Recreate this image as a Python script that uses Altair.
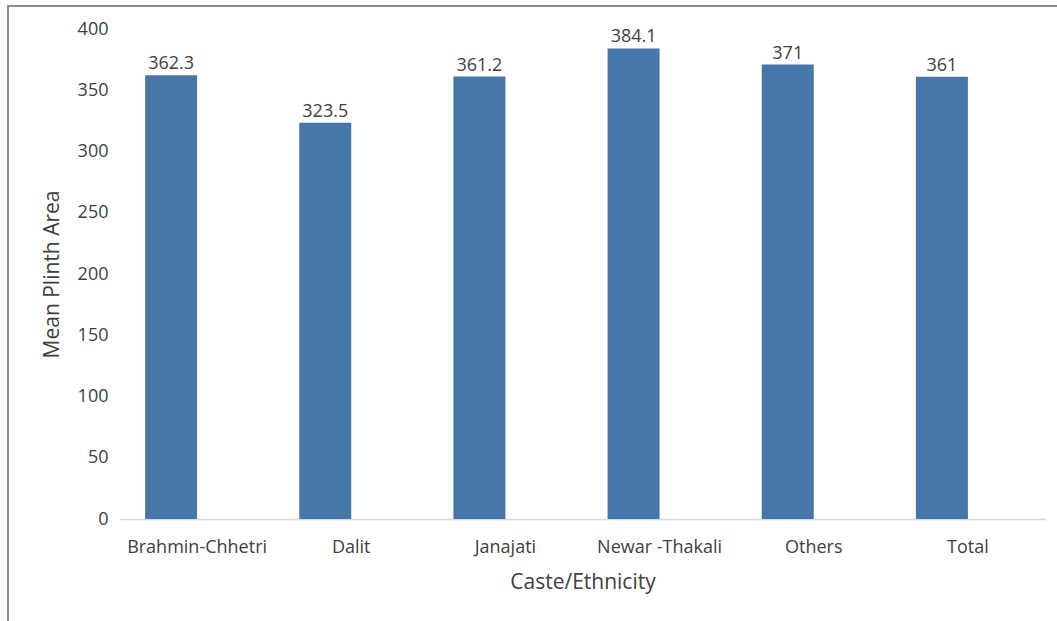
import altair as alt
import pandas as pd

# Mean plinth area by caste/ethnicity
categories = ["Brahmin-Chhetri", "Dalit", "Janajati", "Newar -Thakali", "Others", "Total"]
mean_area = [362.3, 323.5, 361.2, 384.1, 371, 361]
value_labels = ["362.3", "323.5", "361.2", "384.1", "371", "361"]

df = pd.DataFrame({"group": categories, "area": mean_area, "label": value_labels})

FONT = "Open Sans"
TEXT = "#404040"
BAR = "#4677a8"

x_enc = alt.X(
    "group:N",
    sort=categories,
    title="Caste/Ethnicity",
    scale=alt.Scale(paddingInner=0, paddingOuter=0),
    axis=alt.Axis(
        labelAngle=0,
        labelFont=FONT,
        labelFontSize=18,
        labelColor=TEXT,
        labelPadding=19,
        ticks=False,
        domainColor="#d9d9d9",
        domainWidth=1.5,
        titleFont=FONT,
        titleFontSize=21,
        titleFontWeight="normal",
        titleColor=TEXT,
        titlePadding=15,
    ),
)
y_enc = alt.Y(
    "area:Q",
    title="Mean Plinth Area",
    scale=alt.Scale(domain=[0, 400]),
    axis=alt.Axis(
        values=[0, 50, 100, 150, 200, 250, 300, 350, 400],
        labelFont=FONT,
        labelFontSize=18,
        labelColor=TEXT,
        labelPadding=12,
        ticks=False,
        domain=False,
        grid=False,
        titleFont=FONT,
        titleFontSize=21,
        titleFontWeight="normal",
        titleColor=TEXT,
        titlePadding=15,
    ),
)

bars = alt.Chart(df).mark_bar(width=52, xOffset=-26, color=BAR).encode(x=x_enc, y=y_enc)

labels = alt.Chart(df).mark_text(
    xOffset=-26, dy=-2, baseline="bottom", font=FONT, fontSize=18, color=TEXT
).encode(x=alt.X("group:N", sort=categories), y="area:Q", text="label:N")

frame = alt.Chart(df).mark_rect(fill=None, stroke="#8c8c8c", strokeWidth=1.5).encode(
    x=alt.value(-112), x2=alt.value(960), y=alt.value(-23), y2=alt.value(620)
)

chart = (
    alt.layer(frame, bars, labels)
    .properties(
        width=925,
        height=490,
        autosize=alt.AutoSizeParams(type="none"),
        padding={"left": 120, "top": 29, "right": 12, "bottom": 102},
        background="white",
    )
    .configure_view(stroke=None)
)

chart.save("out.html", embed_options={"renderer": "svg", "actions": False})
